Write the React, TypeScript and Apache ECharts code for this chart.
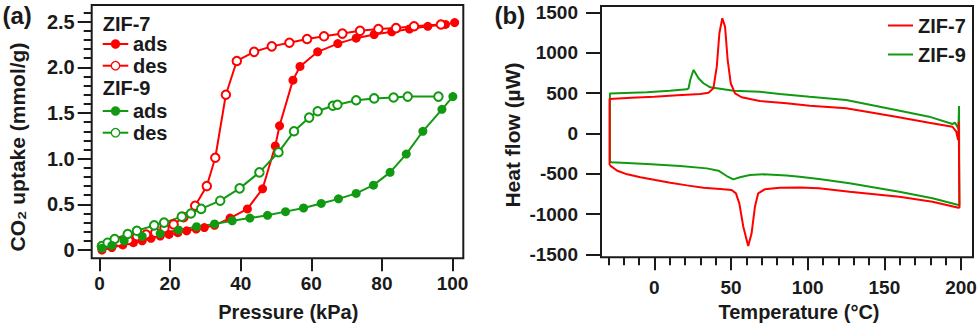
import React, { useEffect, useRef } from "react";
import * as echarts from "echarts";

// ---------- Panel (a): CO2 isotherms ----------
const pressureTicks = [0, 20, 40, 60, 80, 100];
const uptakeTicks = [0, 0.5, 1.0, 1.5, 2.0, 2.5];
const uptakeMinorTicks = [0.1, 0.2, 0.3, 0.4, 0.6, 0.7, 0.8, 0.9, 1.1, 1.2, 1.3, 1.4, 1.6, 1.7, 1.8, 1.9, 2.1, 2.2, 2.3, 2.4, 2.6];

const zif7Ads = [
  [0.7, 0.0], [3.5, 0.026], [6.6, 0.055], [9.6, 0.08], [12.1, 0.1], [14.6, 0.128], [17.2, 0.153],
  [19.7, 0.17], [22.2, 0.19], [24.7, 0.21], [27.4, 0.23], [29.7, 0.245], [32.6, 0.27], [37.0, 0.35],
  [41.9, 0.45], [46.2, 0.67], [49.8, 1.14], [51.0, 1.36], [54.8, 1.86], [56.8, 2.01], [61.8, 2.17],
  [67.5, 2.26], [72.7, 2.32], [77.8, 2.36], [82.8, 2.39], [87.8, 2.42], [93.0, 2.45], [98.0, 2.47], [100.6, 2.49],
];
const zif7Des = [
  [0.7, 0.04], [2.5, 0.06], [5.4, 0.09], [8.2, 0.11], [10.6, 0.15], [13.2, 0.17], [15.8, 0.19],
  [18.4, 0.24], [21.0, 0.28], [23.8, 0.36], [27.1, 0.485], [30.4, 0.7], [32.8, 1.01], [35.8, 1.7],
  [38.9, 2.07], [43.8, 2.17], [48.8, 2.23], [53.8, 2.27], [58.8, 2.31], [63.6, 2.34], [68.8, 2.37],
  [73.8, 2.4], [79.0, 2.42], [84.0, 2.43], [89.1, 2.45], [96.7, 2.47],
];
const zif9Ads = [
  [0.7, 0.02], [3.5, 0.05], [7.0, 0.1], [12.1, 0.15], [17.2, 0.18], [22.4, 0.22], [27.5, 0.255],
  [32.6, 0.285], [37.6, 0.32], [42.6, 0.35], [47.6, 0.38], [52.7, 0.42], [57.8, 0.46], [62.8, 0.51],
  [67.7, 0.56], [72.7, 0.62], [77.6, 0.71], [82.3, 0.85], [86.9, 1.05], [91.6, 1.3], [97.0, 1.54], [100.1, 1.68],
];
const zif9Des = [
  [0.7, 0.044], [2.3, 0.08], [4.3, 0.12], [8.0, 0.175], [10.6, 0.21], [15.5, 0.27], [18.3, 0.3],
  [23.3, 0.365], [25.9, 0.4], [28.8, 0.45], [34.2, 0.54], [39.7, 0.675], [45.3, 0.85], [50.7, 1.07],
  [55.1, 1.3], [59.4, 1.45], [61.8, 1.52], [66.1, 1.58], [67.4, 1.59], [72.7, 1.64], [77.8, 1.66],
  [83.3, 1.67], [87.3, 1.68], [96.0, 1.68],
];

// ---------- Panel (b): DSC ----------
const tempTicks = [0, 50, 100, 150, 200];
const tempMinorTicks = [-30, -20, -10, 10, 20, 30, 40, 60, 70, 80, 90, 110, 120, 130, 140, 160, 170, 180, 190];
const heatTicks = [-1500, -1000, -500, 0, 500, 1000, 1500];

const zif7Dsc = [
  [-29.2, -390], [-29.2, 429], [-15, 443], [0, 455], [15, 474], [30, 491], [35.3, 507], [38.5, 561],
  [40.7, 830], [42.4, 1245], [44.3, 1431], [46.1, 1327], [47.8, 913], [49.8, 624], [52.6, 499],
  [56.9, 450], [68.8, 404], [86.2, 375], [101.3, 345], [125.1, 313], [157.6, 209], [179.2, 134],
  [194.4, 84], [196.9, 22], [198.1, -81], [198.5, 147], [198.8, -560], [199.0, -920],
  [198.3, -922], [181.4, -847], [159.7, -785], [127.3, -723], [107.3, -681], [94.8, -669],
  [81.8, -673], [72.0, -693], [67.7, -743], [65.6, -909], [63.4, -1240], [61.2, -1398],
  [58.0, -1158], [55.4, -867], [53.2, -743], [50.4, -702], [42.9, -689], [32.0, -673],
  [21.2, -644], [10.4, -611], [0.6, -578], [-9.1, -544], [-17.7, -507], [-24.2, -462], [-27.9, -412], [-29.2, -390],
];
const zif9Dsc = [
  [-29.0, -345], [-29.0, 498], [-4.8, 512], [10, 530], [21.2, 549], [22.3, 561], [23.4, 665],
  [25.5, 789], [26.0, 776], [28.8, 686], [32.0, 624], [36.4, 574], [42.9, 557], [51.6, 532],
  [68.8, 519], [81.8, 491], [101.3, 457], [125.1, 416], [157.6, 292], [179.2, 209], [194.4, 118],
  [196.1, 134], [197.6, 84], [198.3, 60], [198.7, 342], [198.9, -888],
  [198.3, -888], [181.4, -805], [159.7, -723], [127.3, -619], [107.3, -565], [94.8, -536],
  [86.2, -520], [71.0, -507], [62.3, -516], [55.8, -544], [51.5, -569], [47.2, -528], [41.8, -462],
  [34.2, -433], [16.9, -404], [-4.8, -379], [-27.9, -358], [-29.0, -345],
];

const RED = "#ff0000";
const GREEN = "#119a11";
const INK = "#1a1a1a";
const FONT = '"Liberation Sans", Arial, Helvetica, sans-serif';

export default function App() {
  const ref = useRef<HTMLDivElement>(null);

  useEffect(() => {
    if (!ref.current) return;
    const chart = echarts.init(ref.current, undefined, { renderer: "svg" });

    const tickLabel = { fontFamily: FONT, fontWeight: "bold" as const, fontSize: 19, color: INK };
    const noLine = { show: false, onZero: false };
    const txt = (text: string, x: number, y: number, size: number, align = "left", rot = 0) => ({
      type: "text",
      x,
      y,
      rotation: rot,
      style: {
        text,
        font: `bold ${size}px ${FONT}`,
        fill: INK,
        align,
        verticalAlign: "middle",
      },
    });
    const legLine = (y: number, color: string, filled: boolean) => [
      { type: "line", shape: { x1: 102.7, y1: y, x2: 128.3, y2: y }, style: { stroke: color, lineWidth: 2 } },
      {
        type: "circle",
        shape: { cx: 115.5, cy: y, r: filled ? 4.5 : 4.2 },
        style: filled ? { fill: color, stroke: color, lineWidth: 0.5 } : { fill: "#fff", stroke: color, lineWidth: 1.3 },
      },
    ];

    const option: any = {
      animation: false,
      backgroundColor: "#fff",
      grid: [
        { left: 91.7, top: 5, width: 371.6, height: 253.3, show: true, borderColor: INK, borderWidth: 2, containLabel: false },
        { left: 601, top: 6, width: 372, height: 251.3, show: true, borderColor: INK, borderWidth: 2, containLabel: false },
      ],
      xAxis: [
        {
          type: "value", gridIndex: 0, position: "bottom", min: -2.2, max: 103.05,
          axisLine: noLine, splitLine: { show: false },
          axisTick: { show: true, length: 13, lineStyle: { color: INK, width: 2 }, customValues: pressureTicks },
          axisLabel: { ...tickLabel, margin: 16, customValues: pressureTicks },
        },
        {
          type: "value", gridIndex: 1, position: "bottom", min: -34.8, max: 207.8,
          axisLine: noLine, splitLine: { show: false },
          axisTick: { show: true, length: 13, lineStyle: { color: INK, width: 2 }, customValues: tempTicks },
          axisLabel: { ...tickLabel, margin: 21, customValues: tempTicks, formatter: (v: number) => String(v) },
        },
        {
          type: "value", gridIndex: 1, position: "bottom", min: -34.8, max: 207.8,
          axisLine: noLine, splitLine: { show: false },
          axisTick: { show: true, length: 8, lineStyle: { color: INK, width: 2 }, customValues: tempMinorTicks },
          axisLabel: { show: false },
        },
      ],
      yAxis: [
        {
          type: "value", gridIndex: 0, position: "left", min: -0.091, max: 2.683,
          axisLine: noLine, splitLine: { show: false },
          axisTick: { show: true, length: 14, lineStyle: { color: INK, width: 2 }, customValues: uptakeTicks },
          axisLabel: {
            ...tickLabel, fontSize: 20, margin: 17, customValues: uptakeTicks,
            formatter: (v: number) => (v === 0 ? "0" : v.toFixed(1)),
          },
        },
        {
          type: "value", gridIndex: 0, position: "left", min: -0.091, max: 2.683,
          axisLine: noLine, splitLine: { show: false },
          axisTick: { show: true, length: 8, lineStyle: { color: INK, width: 2 }, customValues: uptakeMinorTicks },
          axisLabel: { show: false },
        },
        {
          type: "value", gridIndex: 1, position: "left", min: -1537, max: 1583,
          axisLine: noLine, splitLine: { show: false },
          axisTick: { show: true, length: 15, lineStyle: { color: INK, width: 2 }, customValues: heatTicks },
          axisLabel: { ...tickLabel, margin: 23, customValues: heatTicks, formatter: (v: number) => String(v) },
        },
      ],
      legend: {
        data: ["ZIF-7", "ZIF-9"],
        orient: "vertical",
        left: 883,
        top: 10.5,
        icon: "rect",
        itemWidth: 25,
        itemHeight: 2,
        itemGap: 9,
        textStyle: { fontFamily: FONT, fontWeight: "bold", fontSize: 20, color: INK },
      },
      series: [
        {
          name: "ZIF-7 ads", type: "line", xAxisIndex: 0, yAxisIndex: 0, data: zif7Ads,
          symbol: "circle", symbolSize: 9, lineStyle: { color: RED, width: 2 }, itemStyle: { color: RED },
        },
        {
          name: "ZIF-7 des", type: "line", xAxisIndex: 0, yAxisIndex: 0, data: zif7Des,
          symbol: "emptyCircle", symbolSize: 8.5, lineStyle: { color: RED, width: 2 },
          itemStyle: { color: RED, borderColor: RED, borderWidth: 1.3 },
        },
        {
          name: "ZIF-9 des", type: "line", xAxisIndex: 0, yAxisIndex: 0, data: zif9Des,
          symbol: "emptyCircle", symbolSize: 8.5, lineStyle: { color: GREEN, width: 2 },
          itemStyle: { color: GREEN, borderColor: GREEN, borderWidth: 1.3 },
        },
        {
          name: "ZIF-9 ads", type: "line", xAxisIndex: 0, yAxisIndex: 0, data: zif9Ads,
          symbol: "circle", symbolSize: 9, lineStyle: { color: GREEN, width: 2 }, itemStyle: { color: GREEN },
        },
        {
          name: "ZIF-9", type: "line", xAxisIndex: 1, yAxisIndex: 2, data: zif9Dsc,
          symbol: "none", lineStyle: { color: GREEN, width: 2 }, itemStyle: { color: GREEN },
        },
        {
          name: "ZIF-7", type: "line", xAxisIndex: 1, yAxisIndex: 2, data: zif7Dsc,
          symbol: "none", lineStyle: { color: RED, width: 2 }, itemStyle: { color: RED },
        },
      ],
      graphic: [
        txt("(a)", 2.4, 15, 24),
        txt("(b)", 494.5, 15, 24),
        txt("Pressure (kPa)", 288.3, 311.7, 20, "center"),
        txt("Temperature (°C)", 799, 312.3, 20, "center"),
        txt("CO₂ uptake (mmol/g)", 17, 147, 21, "center", Math.PI / 2),
        txt("Heat flow (µW)", 512, 135, 21, "center", Math.PI / 2),
        txt("ZIF-7", 102.7, 24.2, 20),
        ...legLine(44, RED, true),
        txt("ads", 133, 44, 20),
        ...legLine(65.7, RED, false),
        txt("des", 133, 65.7, 20),
        txt("ZIF-9", 102.7, 87.5, 20),
        ...legLine(111, GREEN, true),
        txt("ads", 133, 111, 20),
        ...legLine(132.7, GREEN, false),
        txt("des", 133, 132.7, 20),
      ],
    };

    chart.setOption(option);
    return () => chart.dispose();
  }, []);

  return <div ref={ref} style={{ position: "absolute", left: 0, top: 0, width: 980, height: 327 }} />;
}
